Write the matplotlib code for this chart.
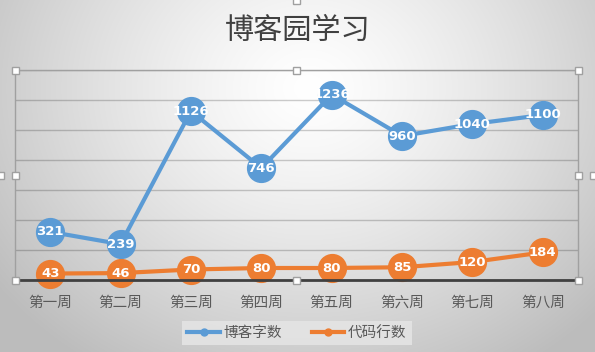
import numpy as np
import matplotlib
matplotlib.use("Agg")
import matplotlib.pyplot as plt
from matplotlib.patches import Rectangle
from matplotlib.lines import Line2D

plt.rcParams['font.family'] = ['Noto Sans CJK SC', 'DejaVu Sans']

title = "博客园学习"
categories = ["第一周", "第二周", "第三周", "第四周", "第五周", "第六周", "第七周", "第八周"]
series_names = ["博客字数", "代码行数"]
blog_words = [321, 239, 1126, 746, 1236, 960, 1040, 1100]
code_lines = [43, 46, 70, 80, 80, 85, 120, 184]
colors = ["#5B9BD5", "#ED7D31"]
y_max = 1400
y_step = 200

W, H = 595, 352
fig = plt.figure(figsize=(W / 100, H / 100), dpi=100)

# background radial gradient
bg = fig.add_axes([0, 0, 1, 1], zorder=-10)
yy, xx = np.mgrid[0:1:352j, 0:1:595j]
d = np.sqrt(((xx - 0.52) * 1.3) ** 2 + ((yy - 0.25) * 0.9) ** 2)
d = np.clip(d / 0.85, 0, 1)
val = 1.0 - 0.26 * d ** 1.3
bg.imshow(np.dstack([val, val, val]), extent=[0, 1, 0, 1], aspect='auto', origin='upper')
bg.axis('off')

left, right, top, bottom = 15, 578, 70, 280
ax = fig.add_axes([left / W, 1 - bottom / H, (right - left) / W, (bottom - top) / H])
ax.set_facecolor('none')
x = np.arange(len(categories))
ax.set_xlim(-0.5, len(categories) - 0.5)
ax.set_ylim(0, y_max)
ax.set_yticks(np.arange(0, y_max + 1, y_step))
ax.yaxis.grid(True, color='black', alpha=0.2, linewidth=1.0, zorder=0)
ax.set_axisbelow(True)
ax.tick_params(axis='y', left=False, labelleft=False)
ax.tick_params(axis='x', bottom=False, pad=8, labelsize=10.5, labelcolor='#595959')
ax.set_xticks(x)
ax.set_xticklabels(categories)
for s in ['left', 'right', 'top']:
    ax.spines[s].set_color('#A0A0A0')
    ax.spines[s].set_linewidth(1.0)
ax.spines['bottom'].set_color('#404040')
ax.spines['bottom'].set_linewidth(2.0)
ax.spines['bottom'].set_zorder(3.5)

for vals, c, name in zip([blog_words, code_lines], colors, series_names):
    ax.plot(x, vals, color=c, linewidth=3, marker='o', markersize=20,
            markeredgecolor=c, label=name, zorder=3, clip_on=False)
    for xi, v in zip(x, vals):
        ax.text(xi, v, str(v), color='white', fontsize=9.5, fontweight='bold',
                ha='center', va='center', zorder=4, family=['DejaVu Sans'])

fig.text(0.5, 1 - 31 / H, title, ha='center', va='center', fontsize=21,
         color='#404040')

handles = [Line2D([], [], color=c, linewidth=3, marker='o', markersize=5) for c in colors]
leg = fig.legend(handles, series_names, loc='center', bbox_to_anchor=(297 / W, 1 - 333 / H),
                 ncol=2, frameon=True, fontsize=10.5, handlelength=2.2,
                 columnspacing=2.0, borderpad=0.35, handletextpad=0.3)
leg.get_frame().set_facecolor('#E4E4E4')
leg.get_frame().set_edgecolor('none')
leg.get_frame().set_alpha(0.9)
leg.get_frame().set_boxstyle('square', pad=0)
for t in leg.get_texts():
    t.set_color('#595959')

# selection handles
def handle(px, py):
    s = 7
    fig.add_artist(Rectangle(((px - s / 2) / W, 1 - (py + s / 2) / H), s / W, s / H,
                             transform=fig.transFigure, facecolor='white',
                             edgecolor='#A0A0A0', linewidth=1, zorder=20))
mid_x = (left + right) / 2
mid_y = (top + bottom) / 2
for px in (left, mid_x, right):
    for py in (top, bottom):
        handle(px, py)
handle(left, mid_y)
handle(right, mid_y)
handle(mid_x, 0)
handle(0, 176)
handle(593, 176)

fig.savefig("out.png", dpi=100)
